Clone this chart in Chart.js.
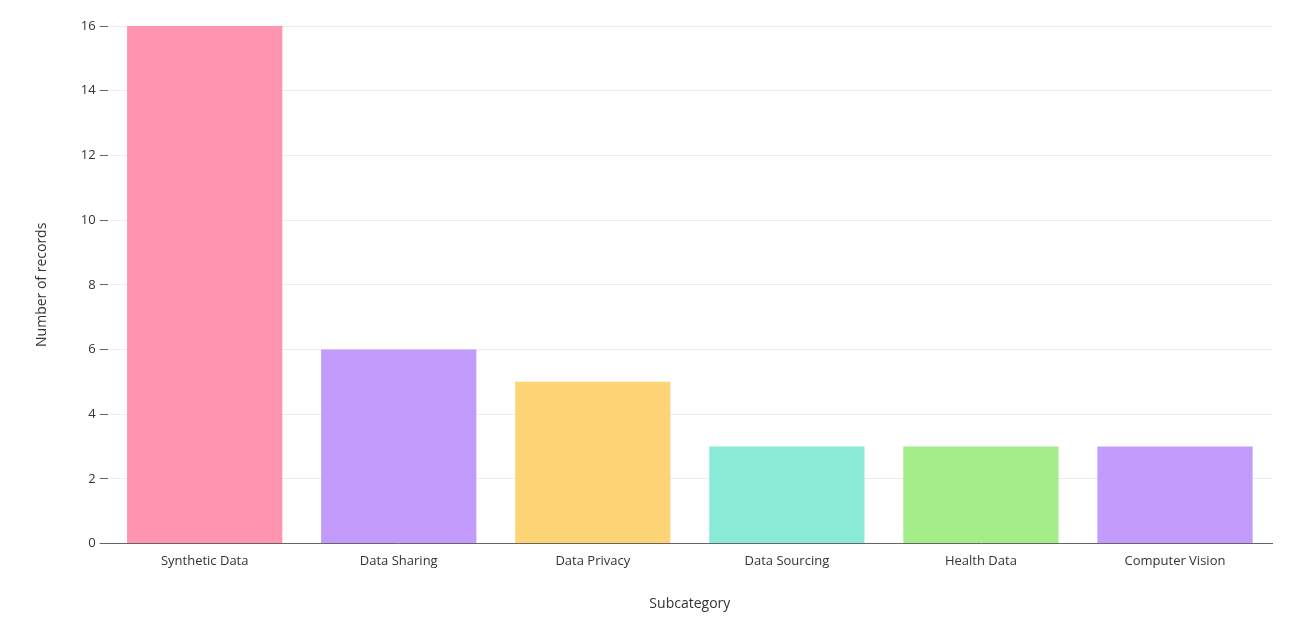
<!DOCTYPE html>
<html><head><meta charset="utf-8">
<script src="https://cdn.jsdelivr.net/npm/chart.js@4"></script>
<style>html,body{margin:0;background:#fff}#w{width:1292px;height:618px}</style>
</head><body><div id="w"><canvas id="c"></canvas></div>
<script>
const categories = ["Synthetic Data","Data Sharing","Data Privacy","Data Sourcing","Health Data","Computer Vision"];
const records = [16,6,5,3,3,3];
const colors = ["#FF94B0","#C29BFC","#FDD576","#89EBD5","#A3EE89","#C29BFC"];
Chart.defaults.font.family = "'Open Sans', sans-serif";
Chart.defaults.font.size = 13;
Chart.defaults.color = "#333";
new Chart(document.getElementById('c'), {
  type: 'bar',
  data: { labels: categories, datasets: [{ data: records, backgroundColor: colors, categoryPercentage: 0.8, barPercentage: 1 }] },
  options: {
    responsive: true, maintainAspectRatio: false, animation: false,
    layout: { padding: { left: 30, right: 20, top: 26, bottom: 2 } },
    plugins: { legend: { display: false }, tooltip: { enabled: false } },
    scales: {
      x: { grid: { display: false }, border: { color: '#666', width: 1 },
           ticks: { padding: 2 },
           title: { display: true, text: 'Subcategory', font: { size: 14 }, padding: { top: 24 } } },
      y: { min: 0, max: 16, ticks: { stepSize: 2, padding: 4 },
           grid: { color: '#ececec', tickLength: 8, tickColor: '#666' }, border: { display: false },
           title: { display: true, text: 'Number of records', font: { size: 14 }, padding: { bottom: 26 } } }
    }
  }
});
</script></body></html>
